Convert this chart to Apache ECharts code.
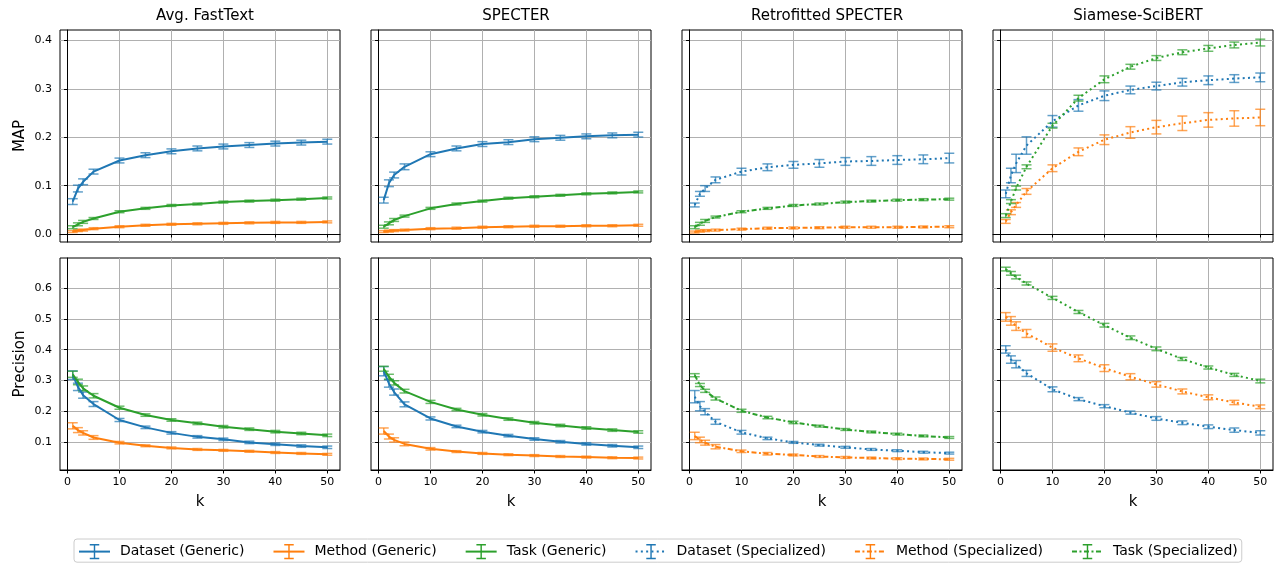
<!DOCTYPE html>
<html><head><meta charset="utf-8">
<script src="https://cdn.jsdelivr.net/npm/echarts@6/dist/echarts.min.js"></script>
<style>html,body{margin:0;padding:0;background:#fff}#c{width:1277px;height:563px}</style>
</head><body><div id="c"></div>
<script>
// ---------------- data ----------------
const kValues = [1, 2, 3, 5, 10, 15, 20, 25, 30, 35, 40, 45, 50];
const panelTitles = ['Avg. FastText', 'SPECTER', 'Retrofitted SPECTER', 'Siamese-SciBERT'];
const rowNames = ['MAP', 'Precision'];
const legendNames = ['Dataset (Generic)', 'Method (Generic)', 'Task (Generic)',
                     'Dataset (Specialized)', 'Method (Specialized)', 'Task (Specialized)'];
const xTicks = [0, 10, 20, 30, 40, 50];
const mapTicks = [0.0, 0.1, 0.2, 0.3, 0.4];
const precisionTicks = [0.1, 0.2, 0.3, 0.4, 0.5, 0.6];

// MAP — Avg. FastText (generic)
const mapFastTextDataset = [0.067, 0.094, 0.108, 0.129, 0.152, 0.163, 0.171, 0.177, 0.181, 0.184, 0.187, 0.189, 0.191];
const mapFastTextDatasetErr = [0.006, 0.007, 0.006, 0.005, 0.005, 0.005, 0.005, 0.005, 0.005, 0.005, 0.005, 0.005, 0.005];
const mapFastTextMethod = [0.005, 0.007, 0.008, 0.011, 0.015, 0.018, 0.020, 0.021, 0.022, 0.023, 0.024, 0.024, 0.025];
const mapFastTextMethodErr = [0.002, 0.002, 0.002, 0.002, 0.002, 0.002, 0.002, 0.002, 0.002, 0.002, 0.002, 0.002, 0.002];
const mapFastTextTask = [0.014, 0.020, 0.025, 0.032, 0.046, 0.053, 0.059, 0.062, 0.066, 0.068, 0.070, 0.072, 0.0745];
const mapFastTextTaskErr = [0.003, 0.003, 0.003, 0.002, 0.002, 0.002, 0.002, 0.002, 0.002, 0.002, 0.002, 0.002, 0.002];

// MAP — SPECTER (generic)
const mapSpecterDataset = [0.070, 0.105, 0.122, 0.139, 0.165, 0.177, 0.186, 0.190, 0.196, 0.199, 0.202, 0.204, 0.2055];
const mapSpecterDatasetErr = [0.006, 0.007, 0.006, 0.006, 0.005, 0.005, 0.005, 0.005, 0.005, 0.005, 0.005, 0.005, 0.005];
const mapSpecterMethod = [0.005, 0.006, 0.007, 0.008, 0.011, 0.012, 0.014, 0.015, 0.016, 0.016, 0.017, 0.017, 0.018];
const mapSpecterMethodErr = [0.002, 0.002, 0.002, 0.002, 0.002, 0.002, 0.002, 0.002, 0.002, 0.002, 0.002, 0.002, 0.002];
const mapSpecterTask = [0.015, 0.022, 0.029, 0.037, 0.053, 0.062, 0.068, 0.074, 0.077, 0.080, 0.083, 0.085, 0.087];
const mapSpecterTaskErr = [0.003, 0.003, 0.003, 0.002, 0.002, 0.002, 0.002, 0.002, 0.002, 0.002, 0.002, 0.002, 0.002];

// MAP — Retrofitted SPECTER (specialized)
const mapRetroDataset = [0.060, 0.083, 0.094, 0.112, 0.129, 0.138, 0.143, 0.146, 0.150, 0.151, 0.153, 0.1545, 0.157];
const mapRetroDatasetErr = [0.004, 0.005, 0.006, 0.006, 0.007, 0.007, 0.007, 0.008, 0.008, 0.009, 0.009, 0.009, 0.010];
const mapRetroMethod = [0.004, 0.006, 0.007, 0.008, 0.010, 0.012, 0.0125, 0.013, 0.014, 0.014, 0.014, 0.0145, 0.015];
const mapRetroMethodErr = [0.002, 0.002, 0.002, 0.002, 0.002, 0.002, 0.002, 0.002, 0.002, 0.002, 0.002, 0.002, 0.002];
const mapRetroTask = [0.014, 0.021, 0.027, 0.035, 0.046, 0.053, 0.059, 0.062, 0.066, 0.068, 0.070, 0.071, 0.072];
const mapRetroTaskErr = [0.003, 0.003, 0.003, 0.002, 0.002, 0.002, 0.002, 0.002, 0.002, 0.002, 0.002, 0.002, 0.002];

// MAP — Siamese-SciBERT (specialized)
const mapSiameseDataset = [0.083, 0.121, 0.146, 0.183, 0.233, 0.266, 0.286, 0.298, 0.306, 0.314, 0.318, 0.3215, 0.324];
const mapSiameseDatasetErr = [0.008, 0.015, 0.019, 0.018, 0.012, 0.012, 0.010, 0.008, 0.008, 0.008, 0.009, 0.008, 0.009];
const mapSiameseMethod = [0.026, 0.045, 0.060, 0.088, 0.136, 0.170, 0.195, 0.210, 0.221, 0.229, 0.236, 0.239, 0.241];
const mapSiameseMethodErr = [0.004, 0.005, 0.005, 0.006, 0.007, 0.008, 0.010, 0.012, 0.014, 0.015, 0.015, 0.016, 0.017];
const mapSiameseTask = [0.038, 0.067, 0.095, 0.139, 0.224, 0.281, 0.320, 0.346, 0.364, 0.376, 0.384, 0.391, 0.396];
const mapSiameseTaskErr = [0.004, 0.004, 0.004, 0.004, 0.005, 0.006, 0.007, 0.005, 0.005, 0.005, 0.006, 0.006, 0.007];

// Precision — Avg. FastText (generic)
const precFastTextDataset = [0.317, 0.279, 0.252, 0.223, 0.171, 0.147, 0.129, 0.116, 0.108, 0.098, 0.092, 0.086, 0.082];
const precFastTextDatasetErr = [0.014, 0.012, 0.010, 0.008, 0.005, 0.004, 0.004, 0.004, 0.004, 0.004, 0.004, 0.004, 0.004];
const precFastTextMethod = [0.152, 0.138, 0.129, 0.114, 0.097, 0.087, 0.080, 0.075, 0.072, 0.069, 0.065, 0.062, 0.059];
const precFastTextMethodErr = [0.010, 0.008, 0.007, 0.006, 0.004, 0.003, 0.003, 0.003, 0.003, 0.003, 0.003, 0.003, 0.003];
const precFastTextTask = [0.320, 0.295, 0.274, 0.250, 0.211, 0.187, 0.171, 0.160, 0.149, 0.141, 0.133, 0.127, 0.121];
const precFastTextTaskErr = [0.010, 0.009, 0.008, 0.007, 0.005, 0.004, 0.004, 0.004, 0.004, 0.004, 0.004, 0.004, 0.004];

// Precision — SPECTER (generic)
const precSpecterDataset = [0.330, 0.290, 0.262, 0.222, 0.176, 0.150, 0.133, 0.120, 0.109, 0.100, 0.093, 0.087, 0.082];
const precSpecterDatasetErr = [0.015, 0.012, 0.010, 0.008, 0.005, 0.004, 0.004, 0.004, 0.004, 0.004, 0.004, 0.004, 0.004];
const precSpecterMethod = [0.135, 0.117, 0.106, 0.093, 0.077, 0.068, 0.062, 0.058, 0.055, 0.052, 0.050, 0.048, 0.047];
const precSpecterMethodErr = [0.010, 0.008, 0.007, 0.006, 0.004, 0.003, 0.003, 0.003, 0.003, 0.003, 0.003, 0.003, 0.003];
const precSpecterTask = [0.338, 0.312, 0.292, 0.265, 0.230, 0.205, 0.188, 0.174, 0.162, 0.153, 0.145, 0.138, 0.132];
const precSpecterTaskErr = [0.008, 0.008, 0.007, 0.006, 0.005, 0.004, 0.004, 0.004, 0.004, 0.004, 0.004, 0.004, 0.004];

// Precision — Retrofitted SPECTER (specialized)
const precRetroDataset = [0.247, 0.216, 0.198, 0.165, 0.131, 0.111, 0.098, 0.089, 0.082, 0.075, 0.071, 0.066, 0.063];
const precRetroDatasetErr = [0.020, 0.015, 0.010, 0.008, 0.006, 0.004, 0.003, 0.003, 0.003, 0.003, 0.003, 0.003, 0.003];
const precRetroMethod = [0.119, 0.106, 0.097, 0.084, 0.069, 0.061, 0.057, 0.052, 0.049, 0.047, 0.045, 0.044, 0.043];
const precRetroMethodErr = [0.012, 0.009, 0.008, 0.007, 0.004, 0.004, 0.003, 0.003, 0.003, 0.003, 0.003, 0.003, 0.003];
const precRetroTask = [0.317, 0.285, 0.266, 0.241, 0.201, 0.179, 0.163, 0.151, 0.140, 0.132, 0.125, 0.119, 0.114];
const precRetroTaskErr = [0.005, 0.005, 0.005, 0.005, 0.005, 0.004, 0.004, 0.003, 0.003, 0.003, 0.003, 0.003, 0.003];

// Precision — Siamese-SciBERT (specialized)
const precSiameseDataset = [0.401, 0.368, 0.353, 0.323, 0.271, 0.239, 0.216, 0.195, 0.176, 0.162, 0.149, 0.138, 0.129];
const precSiameseDatasetErr = [0.012, 0.012, 0.012, 0.010, 0.008, 0.005, 0.005, 0.005, 0.006, 0.006, 0.006, 0.007, 0.007];
const precSiameseMethod = [0.507, 0.494, 0.477, 0.453, 0.407, 0.372, 0.340, 0.312, 0.287, 0.264, 0.245, 0.228, 0.214];
const precSiameseMethodErr = [0.014, 0.014, 0.014, 0.013, 0.012, 0.011, 0.011, 0.010, 0.009, 0.008, 0.008, 0.007, 0.006];
const precSiameseTask = [0.663, 0.649, 0.637, 0.616, 0.569, 0.523, 0.480, 0.439, 0.403, 0.370, 0.342, 0.318, 0.298];
const precSiameseTaskErr = [0.006, 0.006, 0.006, 0.005, 0.005, 0.005, 0.006, 0.006, 0.006, 0.005, 0.005, 0.005, 0.006];

// ---------------- assembly ----------------
const COLORS = ['#1f77b4', '#ff7f0e', '#2ca02c'];
const FONT = 'DejaVu Sans';
const GRID_LEFT = [60, 371, 682, 993];
const GRID_W = 280;
const GRID_TOP = [30, 258];
const GRID_H = 212;
// error-bar glyph for the legend, padded horizontally with two hair-thin anchors
const errPath = 'path://M0,7.99h0.01v0.02h-0.01Z M15.99,7.99h0.01v0.02h-0.01Z ' +
                'M3,0H13V1.5H8.75V14.5H13V16H3V14.5H7.25V1.5H3Z';

// panels[row][col] = [[values, errors] for dataset, method, task]
const panels = [
  [
    [[mapFastTextDataset, mapFastTextDatasetErr], [mapFastTextMethod, mapFastTextMethodErr], [mapFastTextTask, mapFastTextTaskErr]],
    [[mapSpecterDataset, mapSpecterDatasetErr], [mapSpecterMethod, mapSpecterMethodErr], [mapSpecterTask, mapSpecterTaskErr]],
    [[mapRetroDataset, mapRetroDatasetErr], [mapRetroMethod, mapRetroMethodErr], [mapRetroTask, mapRetroTaskErr]],
    [[mapSiameseDataset, mapSiameseDatasetErr], [mapSiameseMethod, mapSiameseMethodErr], [mapSiameseTask, mapSiameseTaskErr]]
  ],
  [
    [[precFastTextDataset, precFastTextDatasetErr], [precFastTextMethod, precFastTextMethodErr], [precFastTextTask, precFastTextTaskErr]],
    [[precSpecterDataset, precSpecterDatasetErr], [precSpecterMethod, precSpecterMethodErr], [precSpecterTask, precSpecterTaskErr]],
    [[precRetroDataset, precRetroDatasetErr], [precRetroMethod, precRetroMethodErr], [precRetroTask, precRetroTaskErr]],
    [[precSiameseDataset, precSiameseDatasetErr], [precSiameseMethod, precSiameseMethodErr], [precSiameseTask, precSiameseTaskErr]]
  ]
];
const yRanges = [[-0.0166, 0.422], [0.008, 0.699]];
const yTickSets = [mapTicks, precisionTicks];

const grids = [], xAxes = [], yAxes = [], lineSeries = [], errSeries = [];
for (let r = 0; r < 2; r++) {
  for (let c = 0; c < 4; c++) {
    const gi = r * 4 + c;
    grids.push({ left: GRID_LEFT[c], top: GRID_TOP[r], width: GRID_W, height: GRID_H,
      show: true, borderColor: '#000', borderWidth: 1, containLabel: false });
    xAxes.push({
      type: 'value', gridIndex: gi, min: -1.45, max: 52.45,
      name: r === 1 ? 'k' : '', nameLocation: 'middle', nameGap: 25,
      nameTextStyle: { fontFamily: FONT, fontSize: 15, color: '#000' },
      axisLine: { show: true, lineStyle: { color: '#000', width: 1 } },
      axisTick: { show: true, length: 3.5, lineStyle: { color: '#000', width: 1 }, customValues: xTicks },
      axisLabel: { show: r === 1, customValues: xTicks, margin: 7, fontFamily: FONT, fontSize: 11, color: '#000' },
      splitLine: { show: true, lineStyle: { color: '#b0b0b0', width: 1 } }
    });
    yAxes.push({
      type: 'value', gridIndex: gi, min: yRanges[r][0], max: yRanges[r][1],
      name: c === 0 ? rowNames[r] : '', nameLocation: 'middle', nameGap: 32, nameRotate: 90,
      nameTextStyle: { fontFamily: FONT, fontSize: 15, color: '#000' },
      axisLine: { show: true, lineStyle: { color: '#000', width: 1 } },
      axisTick: { show: true, length: 3.5, lineStyle: { color: '#000', width: 1 }, customValues: yTickSets[r] },
      axisLabel: { show: c === 0, customValues: yTickSets[r], margin: 8, fontFamily: FONT, fontSize: 11, color: '#000',
        formatter: v => v.toFixed(1) },
      splitLine: { show: true, lineStyle: { color: '#b0b0b0', width: 1 } }
    });
    const specialized = c >= 2;
    for (let s = 0; s < 3; s++) {
      const [vals, errs] = panels[r][c][s];
      const name = legendNames[(specialized ? 3 : 0) + s];
      let dash = 'solid';
      if (specialized) dash = (c === 2 && s > 0) ? [5, 2.5, 2, 2.5] : [2, 3.3];
      lineSeries.push({
        type: 'line', name, xAxisIndex: gi, yAxisIndex: gi,
        data: kValues.map((k, i) => [k, vals[i]]),
        showSymbol: false, symbol: errPath,
        lineStyle: { color: COLORS[s], width: 2, type: dash, cap: 'butt' },
        itemStyle: { color: COLORS[s] },
        z: 3, animation: false, silent: true
      });
      errSeries.push({
        type: 'custom', name, xAxisIndex: gi, yAxisIndex: gi,
        data: kValues.map((k, i) => [k, vals[i], errs[i]]),
        itemStyle: { color: COLORS[s] },
        renderItem: (params, api) => {
          const x = api.value(0), y = api.value(1), e = api.value(2);
          const lo = api.coord([x, y - e]), hi = api.coord([x, y + e]);
          const cw = 5;
          const style = { stroke: COLORS[s], lineWidth: 1.5, opacity: 0.7 };
          return { type: 'group', children: [
            { type: 'line', shape: { x1: lo[0], y1: lo[1], x2: hi[0], y2: hi[1] }, style },
            { type: 'line', shape: { x1: lo[0] - cw, y1: lo[1], x2: lo[0] + cw, y2: lo[1] }, style },
            { type: 'line', shape: { x1: hi[0] - cw, y1: hi[1], x2: hi[0] + cw, y2: hi[1] }, style }
          ]};
        },
        z: 2, animation: false, silent: true
      });
    }
  }
}

const titles = panelTitles.map((t, c) => ({
  text: t, left: GRID_LEFT[c] + GRID_W / 2, top: 4, textAlign: 'center',
  textStyle: { fontFamily: FONT, fontSize: 15, fontWeight: 'normal', color: '#000' }
}));

const option = {
  backgroundColor: '#fff',
  animation: false,
  title: titles,
  legend: {
    data: legendNames, left: 74, top: 539, padding: [5, 4, 3, 4],
    itemWidth: 31, itemHeight: 19, itemGap: 28,
    borderColor: '#cccccc', borderWidth: 1, borderRadius: 3,
    textStyle: { fontFamily: FONT, fontSize: 14, color: '#000', padding: [0, 0, 0, 5] },
    selectedMode: false
  },
  grid: grids, xAxis: xAxes, yAxis: yAxes,
  series: lineSeries.concat(errSeries)
};
const chart = echarts.init(document.getElementById('c'));
chart.setOption(option);
</script></body></html>
